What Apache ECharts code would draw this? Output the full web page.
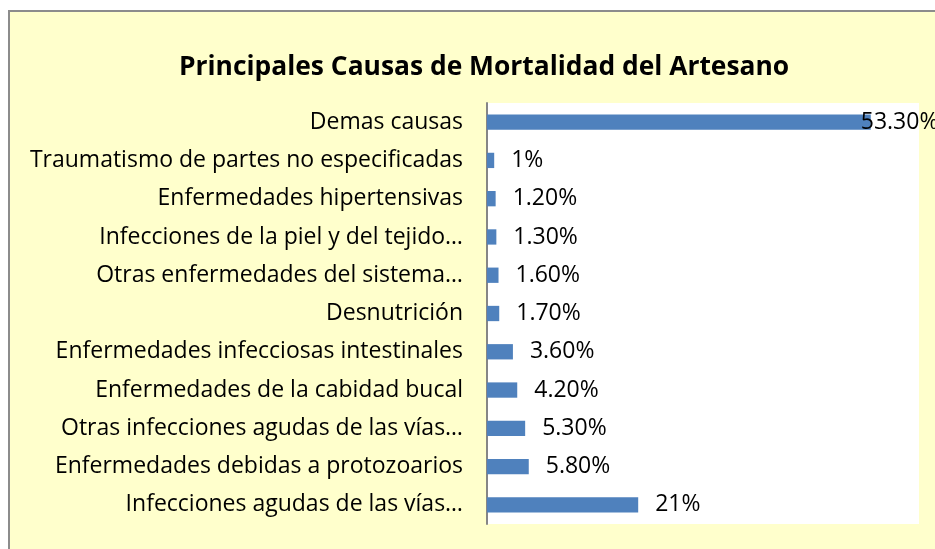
<!DOCTYPE html>
<html lang="es">
<head>
    <meta charset="UTF-8">
    <title>Principales Causas de Mortalidad del Artesano</title>
    <script src="https://cdn.jsdelivr.net/npm/echarts@6/dist/echarts.min.js"></script>
    <style>
        html, body { margin: 0; padding: 0; background: #fff; overflow: hidden; }
        .frame {
            position: absolute;
            left: 8px;
            top: 10px;
            width: 1000px;
            height: 600px;
            background: #FFFFCC;
            border-left: 2px solid #8c8c8c;
            border-top: 2px solid #8c8c8c;
        }
        #chart {
            position: absolute;
            left: 0;
            top: 0;
            width: 935px;
            height: 549px;
        }
    </style>
</head>
<body>
    <div class="frame"></div>
    <div id="chart"></div>
    <script>
        // bottom to top, as ECharts lays out a category y axis
        const causas = [
            'Infecciones agudas de las vías…',
            'Enfermedades debidas a protozoarios',
            'Otras infecciones agudas de las vías…',
            'Enfermedades de la cabidad bucal',
            'Enfermedades infecciosas intestinales',
            'Desnutrición',
            'Otras enfermedades del sistema…',
            'Infecciones de la piel y del tejido…',
            'Enfermedades hipertensivas',
            'Traumatismo de partes no especificadas',
            'Demas causas'
        ];
        const porcentajes = [21, 5.8, 5.3, 4.2, 3.6, 1.7, 1.6, 1.3, 1.2, 1, 53.3];
        const etiquetas = ['21%', '5.80%', '5.30%', '4.20%', '3.60%', '1.70%', '1.60%', '1.30%', '1.20%', '1%', '53.30%'];

        const font = 'Open Sans';
        const chart = echarts.init(document.getElementById('chart'));

        chart.setOption({
            animation: false,
            title: {
                text: 'Principales Causas de Mortalidad del Artesano',
                left: 174,
                top: 49,
                textStyle: {
                    fontFamily: font,
                    fontSize: 26.4,
                    fontWeight: 'bold',
                    color: '#000'
                }
            },
            grid: {
                left: 487,
                right: 16,
                top: 103,
                bottom: 25,
                show: true,
                backgroundColor: '#fff',
                borderWidth: 0
            },
            xAxis: {
                type: 'value',
                min: 0,
                max: 60,
                show: false
            },
            yAxis: {
                type: 'category',
                data: causas,
                axisLine: { lineStyle: { color: '#868686', width: 2 } },
                axisTick: { show: false },
                axisLabel: {
                    margin: 24,
                    fontFamily: font,
                    fontSize: 23,
                    color: '#000'
                }
            },
            series: [
                {
                    type: 'bar',
                    barCategoryGap: '60%',
                    itemStyle: { color: '#4F81BD' },
                    data: porcentajes.map(function (v) {
                        const item = { value: v };
                        // Excel pulls the widest label back inside the plot
                        if (v > 50) item.label = { distance: -10 };
                        return item;
                    }),
                    label: {
                        show: true,
                        position: 'right',
                        distance: 17,
                        fontFamily: font,
                        fontSize: 23,
                        color: '#000',
                        formatter: function (p) { return etiquetas[p.dataIndex]; }
                    }
                }
            ]
        });
    </script>
</body>
</html>
